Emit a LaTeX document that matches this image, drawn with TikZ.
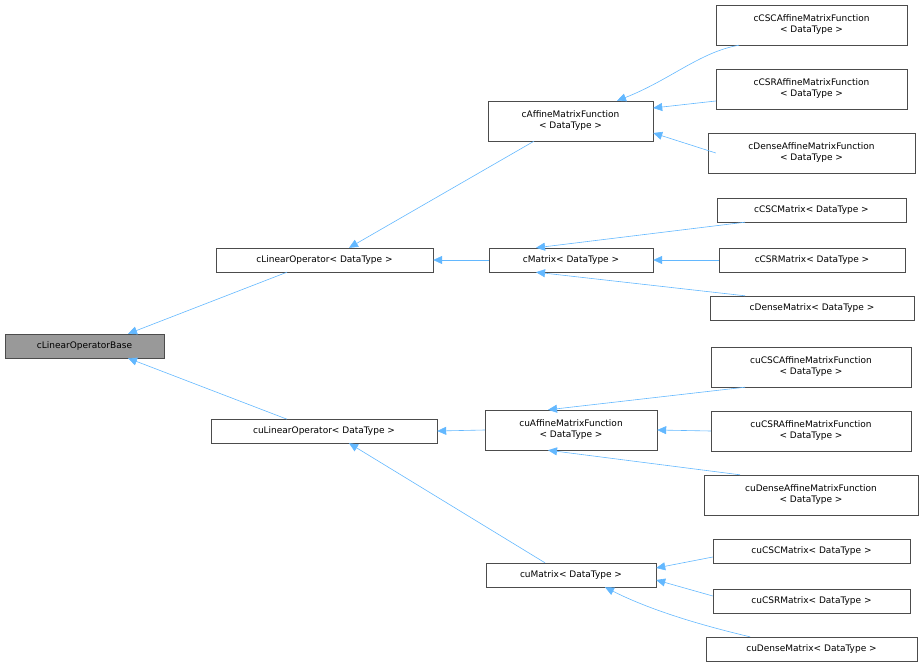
\documentclass[tikz,border=0pt]{standalone}
\usepackage{fontspec}
\setmainfont{DejaVu Sans}
\usetikzlibrary{arrows.meta,calc}
\definecolor{edge}{RGB}{99,184,255}
\begin{document}
\begin{tikzpicture}[x=1pt,y=-1pt,
  box/.style={draw=black!70,fill=white,inner sep=0pt,align=center,font=\fontsize{9}{11}\selectfont},
  inh/.style={draw=edge,line width=0.6pt,{Triangle[fill=edge,length=9pt,width=8pt]}-}]
\useasboundingbox (0,0) rectangle (924,669);
\def\mk#1#2#3#4#5#6#7{\node[box,minimum width={(#4-#2)*1pt},minimum height={(#5-#3)*1pt},#7] (#1) at ({(#2+#4)/2},{(#3+#5)/2}) {#6};}
\mk{base}{5}{334}{164}{358}{cLinearOperatorBase}{fill=black!40}
\mk{lo}{216}{248}{433}{272}{cLinearOperator< DataType >}{}
\mk{ulo}{211}{419}{437}{443}{cuLinearOperator< DataType >}{}
\mk{am}{488}{101}{653}{141}{cAffineMatrixFunction\\< DataType >}{}
\mk{m}{489}{248}{653}{272}{cMatrix< DataType >}{}
\mk{uam}{485}{410}{657}{450}{cuAffineMatrixFunction\\< DataType >}{}
\mk{um}{486}{563}{656}{587}{cuMatrix< DataType >}{}
\mk{a1}{716}{5}{907}{45}{cCSCAffineMatrixFunction\\< DataType >}{}
\mk{a2}{716}{69}{907}{109}{cCSRAffineMatrixFunction\\< DataType >}{}
\mk{a3}{708}{133}{915}{173}{cDenseAffineMatrixFunction\\< DataType >}{}
\mk{m1}{717}{198}{906}{222}{cCSCMatrix< DataType >}{}
\mk{m2}{719}{248}{905}{272}{cCSRMatrix< DataType >}{}
\mk{m3}{710}{296}{914}{320}{cDenseMatrix< DataType >}{}
\mk{ua1}{711}{347}{911}{387}{cuCSCAffineMatrixFunction\\< DataType >}{}
\mk{ua2}{711}{411}{911}{451}{cuCSRAffineMatrixFunction\\< DataType >}{}
\mk{ua3}{704}{475}{918}{515}{cuDenseAffineMatrixFunction\\< DataType >}{}
\mk{um1}{713}{539}{910}{563}{cuCSCMatrix< DataType >}{}
\mk{um2}{713}{589}{910}{613}{cuCSRMatrix< DataType >}{}
\mk{um3}{706}{637}{917}{661}{cuDenseMatrix< DataType >}{}
\draw[inh] ($(base.north)+(43.5,0)$) -- ($(lo.south)+(-37.5,0)$);
\draw[inh] ($(base.south)+(43.5,0)$) -- ($(ulo.south)+(-37,-24)$);
\draw[inh] ($(lo.north)+(24.5,0)$) -- ($(am.south)+(-36.5,0)$);
\draw[inh] (lo.east) -- (m.west);
\draw[inh] ($(ulo.south)+(25,0)$) -- ($(um.north)+(-26,0)$);
\draw[inh] (ulo.east) -- (uam.west);
\draw[inh] ($(am.north)+(46.5,0)$) .. controls (670,80) and (700,52) .. ($(a1.south)+(-72.5,0)$);
\draw[inh] ($(am.east)+(0,-13)$) -- ($(a2.west)+(0,12)$);
\draw[inh] ($(am.east)+(0,12)$) -- ($(a3.west)+(8,0)$);
\draw[inh] ($(m.north)+(-35,0)$) -- ($(m1.south)+(-66.5,0)$);
\draw[inh] (m.east) -- (m2.west);
\draw[inh] ($(m.south)+(-35,0)$) -- ($(m3.north)+(-67,0)$);
\draw[inh] ($(uam.north)+(-23,0)$) -- ($(ua1.south)+(-66,0)$);
\draw[inh] (uam.east) -- (ua2.west);
\draw[inh] ($(uam.south)+(-23,0)$) -- ($(ua3.north)+(-71,0)$);
\draw[inh] ($(um.east)+(0,-7)$) -- ($(um1.west)+(0,6)$);
\draw[inh] ($(um.east)+(0,5)$) -- ($(um2.west)+(0,-5)$);
\draw[inh] ($(um.south)+(34,0)$) .. controls (650,610) and (700,625) .. ($(um3.north)+(-61.5,0)$);
\end{tikzpicture}
\end{document}
